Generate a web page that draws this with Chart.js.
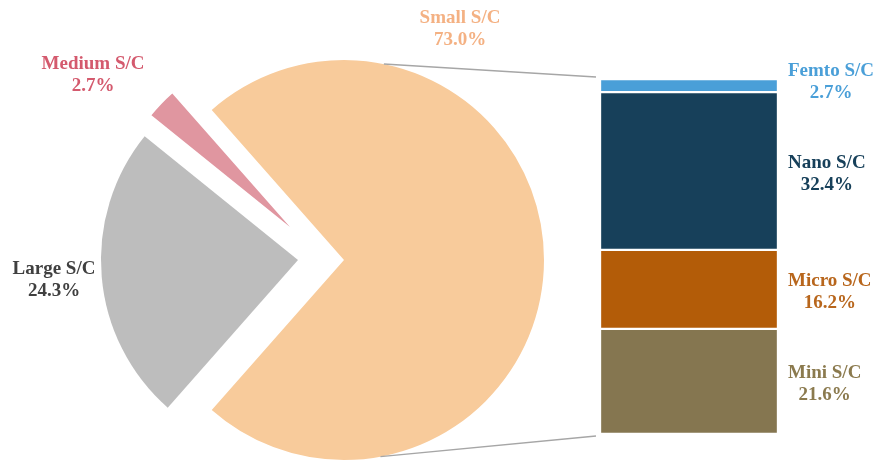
<!DOCTYPE html>
<html>
<head>
<meta charset="utf-8">
<script src="https://cdn.jsdelivr.net/npm/chart.js@4.4.0/dist/chart.umd.min.js"></script>
<style>
  html, body { margin: 0; padding: 0; background: #fff; }
  #wrap { position: relative; width: 882px; height: 460px; }
  #wrap canvas { position: absolute; left: 0; top: 0; }
</style>
</head>
<body>
<div id="wrap">
  <canvas id="pie-small" width="882" height="460"></canvas>
  <canvas id="pie-large" width="882" height="460"></canvas>
  <canvas id="pie-medium" width="882" height="460"></canvas>
  <canvas id="bar-chart" width="882" height="460"></canvas>
</div>
<script>
// pie data
const pieLabels = ['Small S/C', 'Large S/C', 'Medium S/C'];
const pieValues = [73.0, 24.3, 2.7];
const pieColors = ['#F8CB9B', '#BDBDBD', '#E096A0'];
const pieTextColors = ['#F4B183', '#404040', '#D45A6E'];

// bar data (bottom -> top)
const barLabels = ['Mini S/C', 'Micro S/C', 'Nano S/C', 'Femto S/C'];
const barValues = [21.6, 16.2, 32.4, 2.7];
const barColors = ['#857650', '#B35C08', '#17405A', '#4A9FD8'];
const barTextColors = ['#8B7A4E', '#B8661C', '#17405A', '#4A9FD8'];

const FONT = 'bold 19px "Liberation Serif", "Times New Roman", serif';
const LINE_GAP = 11;

function drawTwoLines(ctx, x, y, l1, l2, color) {
  ctx.save();
  ctx.font = FONT;
  ctx.fillStyle = color;
  ctx.textAlign = 'center';
  ctx.textBaseline = 'middle';
  ctx.fillText(l1, x, y - LINE_GAP);
  ctx.fillText(l2, x, y + LINE_GAP);
  ctx.restore();
}

// exploded pie: each slice gets its own layer so it can be pulled out
// (center x, center y, radius) of each slice's own pie
const explode = [[344, 260, 200], [298, 260, 197], [290, 227, 178]];

function makePie(id, idx) {
  const [cx, cy, r] = explode[idx];
  // padding must stay >= 0, so pad the side away from the centre
  const padX = 882 - 2 * cx, padY = 460 - 2 * cy;
  return new Chart(document.getElementById(id), {
    type: 'pie',
    data: {
      labels: pieLabels,
      datasets: [{
        data: pieValues,
        backgroundColor: pieColors.map((c, i) => (i === idx ? c : 'rgba(0,0,0,0)')),
        borderWidth: 0,
      }],
    },
    options: {
      responsive: false,
      animation: false,
      rotation: -41.4,
      radius: r,
      layout: {
        padding: {
          left: padX < 0 ? -padX : 0,
          right: padX > 0 ? padX : 0,
          top: padY < 0 ? -padY : 0,
          bottom: padY > 0 ? padY : 0,
        },
      },
      plugins: { legend: { display: false }, tooltip: { enabled: false } },
    },
  });
}

const pieSmall = makePie('pie-small', 0);
const pieLarge = makePie('pie-large', 1);
const pieMedium = makePie('pie-medium', 2);

const pieLabelPos = [[460, 29], [54, 280], [93, 75]];

// connector lines + all labels
const extrasPlugin = {
  id: 'extras',
  afterDraw(chart) {
    const ctx = chart.ctx;
    const arc = pieSmall.getDatasetMeta(0).data[0];
    const R = arc.outerRadius;
    const a1 = -78.5 * Math.PI / 180;
    const a2 = 79.5 * Math.PI / 180;
    const top = chart.getDatasetMeta(barValues.length - 1).data[0];
    const bot = chart.getDatasetMeta(0).data[0];
    const left = top.x - top.width / 2 - 4;

    ctx.save();
    ctx.strokeStyle = '#A6A6A6';
    ctx.lineWidth = 1.3;
    ctx.beginPath();
    ctx.moveTo(arc.x + R * Math.cos(a1), arc.y + R * Math.sin(a1));
    ctx.lineTo(left, top.y - 2);
    ctx.moveTo(arc.x + R * Math.cos(a2), arc.y + R * Math.sin(a2));
    ctx.lineTo(left, bot.base + 2);
    ctx.stroke();
    ctx.restore();

    pieLabels.forEach((lab, i) => {
      drawTwoLines(ctx, pieLabelPos[i][0], pieLabelPos[i][1], lab,
        pieValues[i].toFixed(1) + '%', pieTextColors[i]);
    });

    ctx.save();
    ctx.font = FONT;
    barLabels.forEach((lab, i) => {
      const el = chart.getDatasetMeta(i).data[0];
      const dy = i === barLabels.length - 1 ? -3 : 3;
      const yc = (el.y + el.base) / 2 + dy;
      const xc = el.x + el.width / 2 + 10 + ctx.measureText(lab).width / 2;
      drawTwoLines(ctx, xc, yc, lab, barValues[i].toFixed(1) + '%', barTextColors[i]);
    });
    ctx.restore();
  }
};

const barTotal = barValues.reduce((a, b) => a + b, 0);

const barChart = new Chart(document.getElementById('bar-chart'), {
  type: 'bar',
  data: {
    labels: [''],
    datasets: barLabels.map((lab, i) => ({
      label: lab,
      data: [barValues[i]],
      backgroundColor: barColors[i],
      borderColor: '#ffffff',
      borderWidth: 1.5,
      borderSkipped: false,
      barPercentage: 1,
      categoryPercentage: 1,
    })),
  },
  options: {
    responsive: false,
    animation: false,
    layout: { padding: { left: 600, right: 104, top: 79, bottom: 26 } },
    scales: {
      x: { display: false, stacked: true },
      y: { display: false, stacked: true, min: 0, max: barTotal },
    },
    plugins: { legend: { display: false }, tooltip: { enabled: false } },
  },
  plugins: [extrasPlugin],
});
</script>
</body>
</html>
